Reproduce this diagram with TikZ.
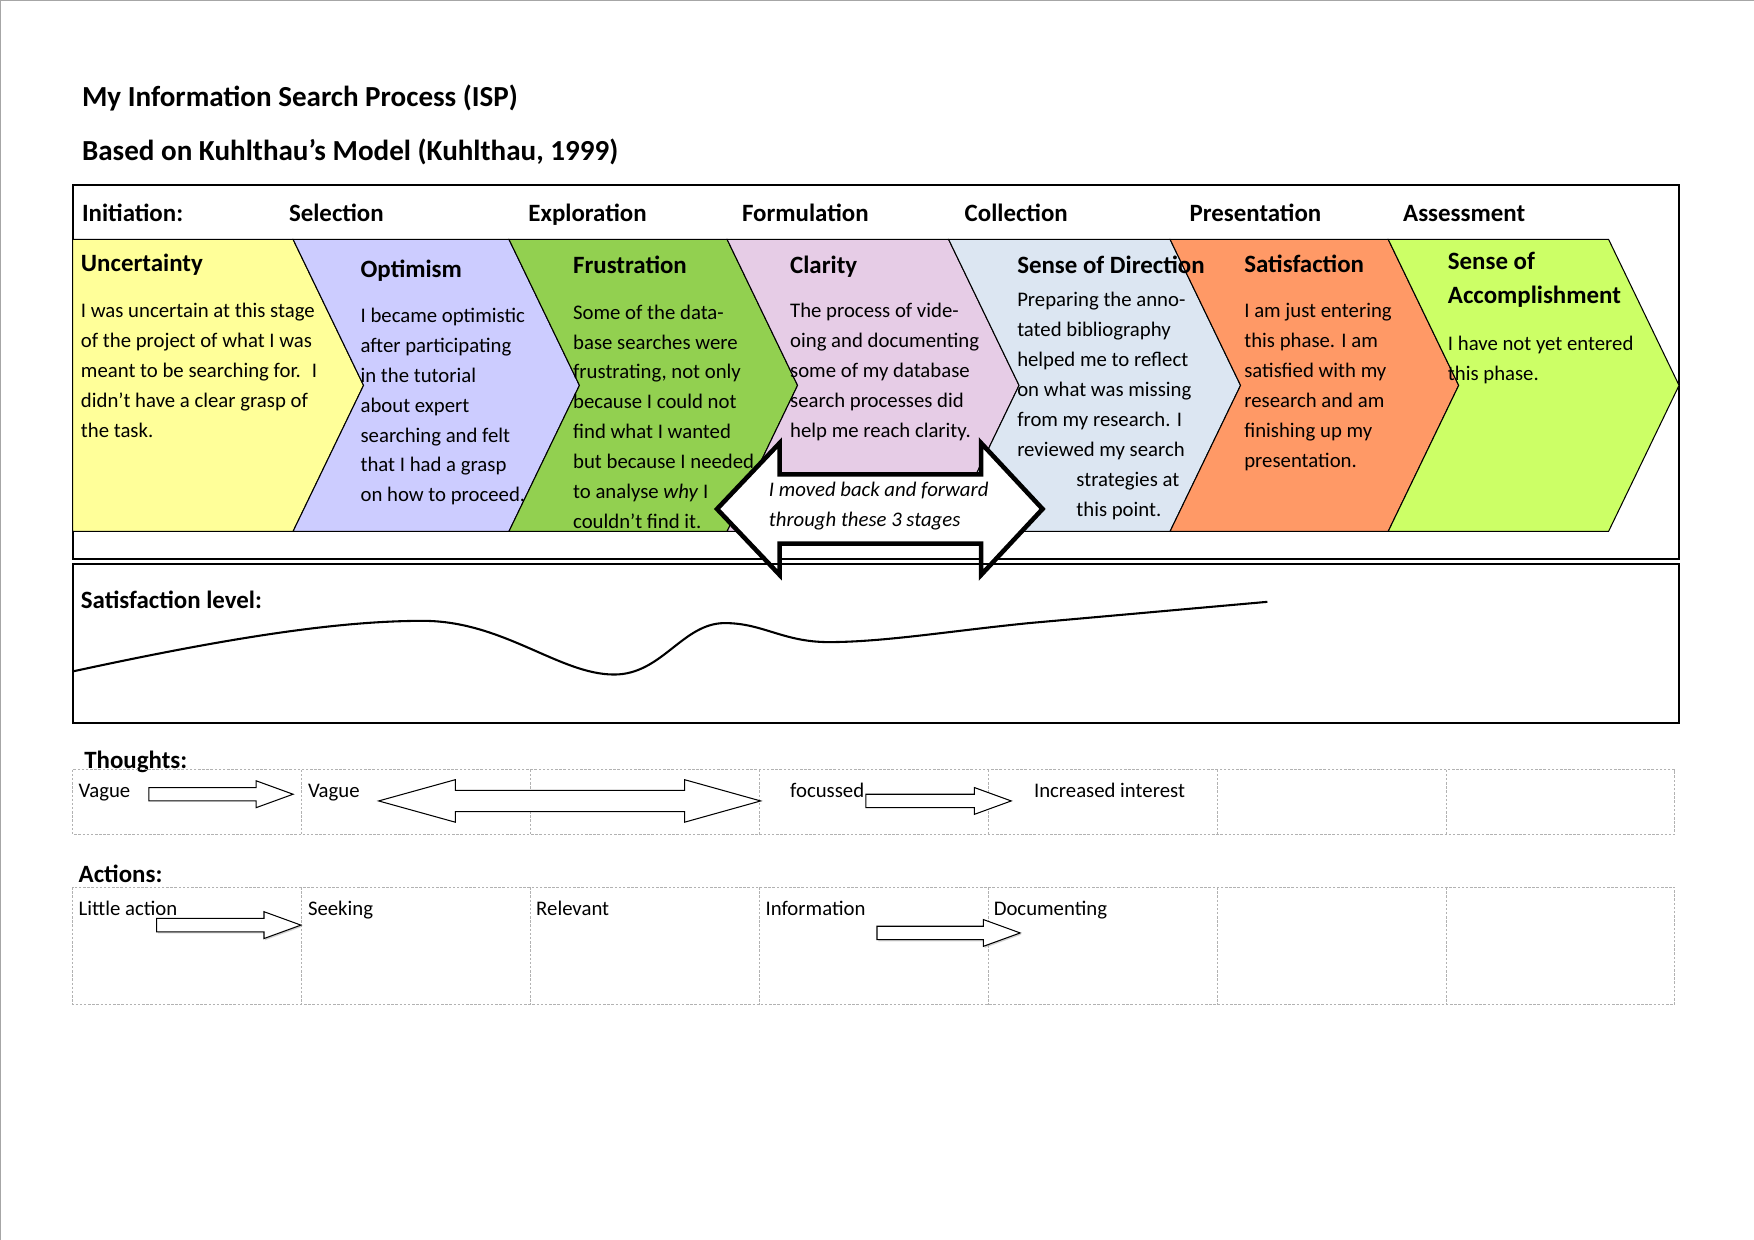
\documentclass[tikz,border=0pt]{standalone}
\usepackage{fontspec}
\setmainfont{Carlito}
\usepackage{tikz}
\usetikzlibrary{positioning, arrows.meta, shadows}

\definecolor{uncert}{HTML}{FFFF99}
\definecolor{optim}{HTML}{CCCCFF}
\definecolor{frustr}{HTML}{92D050}
\definecolor{clar}{HTML}{E6CCE6}
\definecolor{direc}{HTML}{DCE6F2}
\definecolor{satis}{HTML}{FF9966}
\definecolor{accomp}{HTML}{CCFF66}

\begin{document}
\begin{tikzpicture}[
        x=0.018941cm, y=-0.018941cm,
        titletext/.style={anchor=west, inner sep=0pt, text height=1.6ex, text depth=0.3ex, font=\fontsize{14}{17}\selectfont\bfseries},
        phaselabel/.style={anchor=west, inner sep=0pt, text height=1.6ex, text depth=0.3ex, font=\fontsize{12}{14}\selectfont\bfseries},
        stagehead/.style={anchor=west, inner sep=0pt, align=left, font=\fontsize{12}{16.6}\selectfont\bfseries},
        stagetext/.style={anchor=north west, inner sep=0pt, align=left, font=\fontsize{10}{14.4}\selectfont},
        celltext/.style={anchor=west, inner sep=0pt, text height=1.6ex, text depth=0.3ex, font=\fontsize{10}{12}\selectfont},
        chev/.style={draw, line width=0.5pt, fill=#1},
        frame/.style={draw, line width=0.9pt},
        blockarr/.style={draw, line width=0.5pt, fill=white},
        gridline/.style={gray!60, line width=0.4pt, dash pattern=on 1.2pt off 0.8pt}
    ]
        \useasboundingbox (0,0) rectangle (1568,1108.5);
        \draw[gray!70, line width=0.6pt] (0.5,1108.5) -- (0.5,0.5) -- (1568,0.5);

        \node[titletext] (title) at (73,89) {My Information Search Process (ISP)};
        \node[titletext] (subtitle) at (73,138) {Based on Kuhlthau’s Model (Kuhlthau, 1999)};

        \draw[frame] (65,165) rectangle (1501,500);
        \foreach \px/\pname/\ptext in {73/init/Initiation:, 258/select/Selection, 472/explore/Exploration, 663/formul/Formulation, 862/collect/Collection, 1063/present/Presentation, 1254/assess/Assessment}
            \node[phaselabel] (ph-\pname) at (\px,192) {\ptext};

        \draw[chev=uncert] (65,214) -- (262,214) -- (325,344.5) -- (262,475) -- (65,475) -- cycle;
        \foreach \cl/\cr/\cc in {262/455/optim, 455/650/frustr, 650/848/clar, 848/1046/direc, 1046/1241/satis, 1241/1438/accomp}
            \draw[chev=\cc] (\cl,214) -- (\cr,214) -- ({\cr+63},344.5) -- (\cr,475) -- (\cl,475) -- ({\cl+63},344.5) -- cycle;

        \node[stagehead] (h-uncert) at (72,237) {Uncertainty};
        \node[stagehead] (h-optim) at (322,242) {Optimism};
        \node[stagehead] (h-frustr) at (512,237) {Frustration};
        \node[stagehead] (h-clar) at (706,238) {Clarity};
        \node[stagehead] (h-direc) at (909,237) {Sense of Direction};
        \node[stagehead] (h-satis) at (1112,236) {Satisfaction};
        \node[stagehead] (h-accomp) at (1294,250) {Sense of\\Accomplishment};

        \node[stagetext] (t-uncert) at (72,271) {I was uncertain at this stage\\of the project of what I was\\meant to be searching for.~ I\\didn’t have a clear grasp of\\the task.};
        \node[stagetext] (t-optim) at (322,275) {I became optimistic\\after participating\\in the tutorial\\about expert\\searching and felt\\that I had a grasp\\on how to proceed.};
        \node[stagetext] (t-frustr) at (512,272) {Some of the data-\\base searches were\\frustrating, not only\\because I could not\\find what I wanted\\but because I needed\\to analyse \emph{why} I\\couldn’t find it.};
        \node[stagetext] (t-clar) at (706,271) {The process of vide-\\oing and documenting\\some of my database\\search processes did\\help me reach clarity.};
        \node[stagetext] (t-direc) at (909,261) {Preparing the anno-\\tated bibliography\\helped me to reflect\\on what was missing\\from my research. I\\reviewed my search\\\hspace*{28.5pt}strategies at\\\hspace*{28.5pt}this point.};
        \node[stagetext] (t-satis) at (1112,271) {I am just entering\\this phase. I am\\satisfied with my\\research and am\\finishing up my\\presentation.};
        \node[stagetext] (t-accomp) at (1294,300) {I have not yet entered\\this phase.};

        \draw[blockarr, line width=2.2pt] (641,455) -- (697,396) -- (697,424) -- (877,424) -- (877,396) -- (932,455) -- (877,514) -- (877,486) -- (697,486) -- (697,514) -- cycle;
        \node[stagetext, anchor=west, font=\fontsize{10}{14.4}\selectfont\itshape] (moved) at (687,452) {I moved back and forward\\through these 3 stages};

        \draw[frame] (65,504) rectangle (1501,646);
        \node[phaselabel] (satlevel) at (72,538) {Satisfaction level:};
        \draw[line width=1pt] (66,600) .. controls (200,571) and (300,555) .. (378,555)
            .. controls (450,555) and (500,603) .. (549,603)
            .. controls (592,603) and (610,557) .. (648,557)
            .. controls (682,557) and (700,574) .. (741,574)
            .. controls (790,574) and (850,564) .. (920,557) -- (1133,538);

        \node[phaselabel] (thoughts) at (75,681) {Thoughts:};
        \draw[gridline] (65,688) rectangle (1497,746);
        \foreach \k in {1,...,6}
            \draw[gridline] ({65+204.6*\k},688) -- ++(0,58);
        \node[celltext] (th-vague) at (70,707.5) {Vague};
        \node[celltext] (th-vague2) at (275,707.5) {Vague};
        \node[celltext] (th-focus) at (706,707.5) {focussed};
        \node[celltext] (th-interest) at (924,707.5) {Increased interest};
        \foreach \xa/\xb/\yc in {133/262/710, 774/904/716}
            \draw[blockarr] (\xa,{\yc-6}) -- ({\xb-33},{\yc-6}) -- ({\xb-33},{\yc-12}) -- (\xb,\yc) -- ({\xb-33},{\yc+12}) -- ({\xb-33},{\yc+6}) -- (\xa,{\yc+6}) -- cycle;
        \draw[blockarr] (338.5,716) -- (407,697) -- (407,706.5) -- (612,706.5) -- (612,697) -- (680,716) -- (612,735) -- (612,725.5) -- (407,725.5) -- (407,735) -- cycle;

        \node[phaselabel] (actions) at (70,783) {Actions:};
        \draw[gridline] (65,793) rectangle (1497,898);
        \foreach \k in {1,...,6}
            \draw[gridline] ({65+204.6*\k},793) -- ++(0,105);
        \node[celltext] (ac-little) at (70,813) {Little action};
        \node[celltext] (ac-seek) at (275,813) {Seeking};
        \node[celltext] (ac-relev) at (479,813) {Relevant};
        \node[celltext] (ac-info) at (684,813) {Information};
        \node[celltext] (ac-doc) at (888,813) {Documenting};
        \foreach \xa/\xb/\yc in {140/269/827, 784/912/834}
            \draw[blockarr, drop shadow={shadow xshift=0.6pt, shadow yshift=-0.8pt, fill=gray!70}] (\xa,{\yc-6}) -- ({\xb-33},{\yc-6}) -- ({\xb-33},{\yc-12}) -- (\xb,\yc) -- ({\xb-33},{\yc+12}) -- ({\xb-33},{\yc+6}) -- (\xa,{\yc+6}) -- cycle;
    \end{tikzpicture}
\end{document}
